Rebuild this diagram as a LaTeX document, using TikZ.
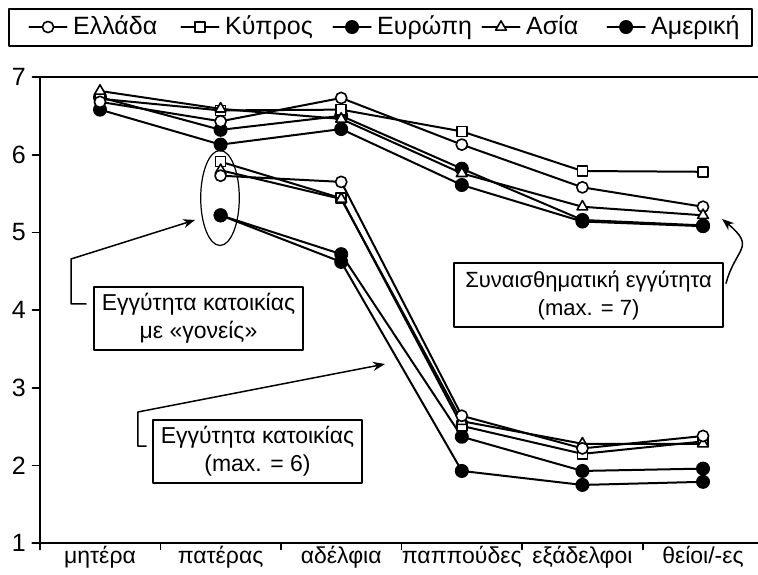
\documentclass[tikz,border=0pt]{standalone}
\usepackage{fontspec}
\setmainfont{Liberation Sans}
\usetikzlibrary{arrows.meta,plotmarks}
\begin{document}
\begin{tikzpicture}[x=60.3pt, y=38.85pt, font=\fontsize{11.5}{14}\selectfont,
	line join=round, line cap=round, >={Stealth[length=6pt,width=4.5pt]},
	ell/.style={line width=1pt, mark=*, mark size=2.8pt, mark options={solid, fill=white, line width=0.8pt}},
	kyp/.style={line width=1pt, mark=square*, mark size=2.5pt, mark options={solid, fill=white, line width=0.8pt}},
	eur/.style={line width=1pt, mark=*, mark size=3pt, mark options={solid, fill=black}},
	asi/.style={line width=1pt, mark=triangle*, mark size=3.1pt, mark options={solid, fill=white, line width=0.8pt}},
	ame/.style={line width=1pt, mark=*, mark size=3pt, mark options={solid, fill=black}},
	note/.style={draw, line width=0.9pt, align=center, inner sep=0pt, minimum width=104.5pt, minimum height=31.5pt},
	pointer/.style={->, line width=0.75pt}]
	\def \xmin{0.5}
	\def \xmax{6.456}
	\def \ymin{1}
	\def \ymax{7}
	\useasboundingbox (0.1708,0.591) rectangle (\xmax,7.991);
	\node[draw, line width=0.9pt, inner sep=0pt, minimum width=371.5pt, minimum height=18.5pt] (legend) at (3.326,7.64) {};
	\foreach \st/\mx/\name in {ell/0.569/Ελλάδα, kyp/1.829/Κύπρος, eur/3.090/Ευρώπη, asi/4.325/Ασία, ame/5.362/Αμερική}{
		\draw[\st, mark indices={2}] plot coordinates {(\mx-0.155,7.643) (\mx,7.643) (\mx+0.155,7.643)};
		\node[anchor=base west, inner sep=0pt, font=\fontsize{12.5}{14}\selectfont] (leg-\st) at (\mx+0.205,7.547) {\name};
	}
	\draw[line width=1pt] (\xmin,\ymax) -- (\xmax,\ymax);
	\draw[line width=1pt] (\xmin,\ymax) -- (\xmin,0.92);
	\draw[line width=1pt] (0.44,\ymin) -- (\xmax,\ymin);
	\foreach \y in {1,...,7}
	\draw[line width=0.8pt] (\xmin,\y) -- (0.44,\y) node[left, inner sep=3pt, font=\fontsize{12.5}{14}\selectfont] (yl\y) {\y};
	\foreach \x in {1.5,2.5,3.5,4.5,5.5}
	\draw[line width=0.8pt] (\x,\ymin) -- (\x,0.92);
	\foreach \x/\lab in {1/μητέρα, 2/πατέρας, 3/αδέλφια, 4/παππούδες, 5/εξάδελφοι, 6/{θείοι/-ες}}
	\node[anchor=base] (cat\x) at (\x,0.745) {\lab};
	\draw[ame] plot coordinates {(1,6.58) (2,6.13) (3,6.33) (4,5.61) (5,5.14) (6,5.08)};
	\draw[eur] plot coordinates {(1,6.74) (2,6.32) (3,6.50) (4,5.82) (5,5.16) (6,5.09)};
	\draw[kyp] plot coordinates {(1,6.72) (2,6.57) (3,6.58) (4,6.30) (5,5.79) (6,5.78)};
	\draw[ell] plot coordinates {(1,6.68) (2,6.43) (3,6.73) (4,6.13) (5,5.58) (6,5.33)};
	\draw[asi] plot coordinates {(1,6.82) (2,6.59) (3,6.46) (4,5.76) (5,5.33) (6,5.22)};
	\draw[ame] plot coordinates {(2,5.22) (3,4.62) (4,1.93) (5,1.75) (6,1.79)};
	\draw[eur] plot coordinates {(2,5.22) (3,4.72) (4,2.37) (5,1.93) (6,1.96)};
	\draw[kyp] plot coordinates {(2,5.91) (3,5.44) (4,2.51) (5,2.15) (6,2.31)};
	\draw[asi] plot coordinates {(2,5.80) (3,5.43) (4,2.57) (5,2.28) (6,2.28)};
	\draw[ell] plot coordinates {(2,5.73) (3,5.65) (4,2.64) (5,2.22) (6,2.38)};
	\draw[line width=0.6pt] (1.995,5.443) ellipse [x radius=9.65pt, y radius=23.75pt];
	\node[note] (box1) at (1.817,3.892) {Εγγύτητα κατοικίας\\με «γονείς»};
	\node[note] (box2) at (2.306,2.180) {Εγγύτητα κατοικίας\\(max. = 6)};
	\node[note, minimum width=134.5pt, minimum height=32pt, font=\fontsize{11}{14}\selectfont] (box3) at (5.051,4.194) {Συναισθηματική εγγύτητα\\(max. = 7)};
	\coordinate (bend1) at (0.760,4.658);
	\coordinate (tip1) at (1.788,5.160);
	\coordinate (bend2) at (1.315,2.689);
	\coordinate (tip2) at (3.363,3.306);
	\coordinate (tip3) at (6.158,5.173);
	\draw[pointer, shorten <=3.5pt] (box1.west |- 0,4.08) -| (bend1) -- (tip1);
	\draw[pointer, shorten <=3pt] (box2.west |- 0,2.251) -| (bend2) -- (tip2);
	\draw[pointer, shorten <=4pt] (box3.east |- 0,4.246) to[out=75, in=-40, looseness=1.6] (tip3);
\end{tikzpicture}
\end{document}
